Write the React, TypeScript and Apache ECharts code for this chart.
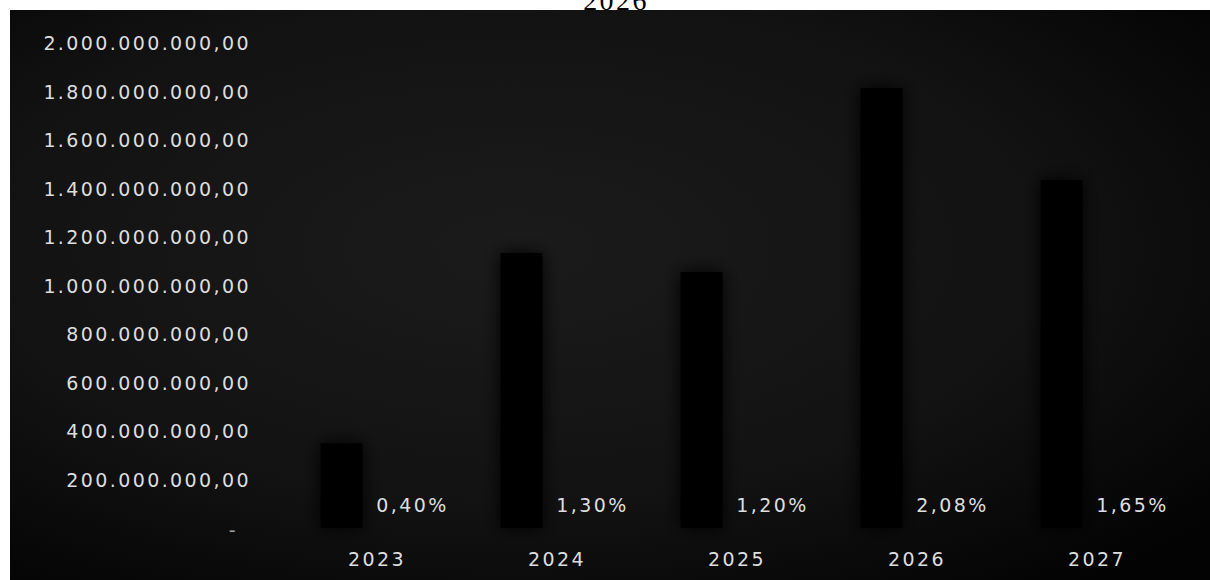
import React, { useEffect, useRef } from "react";
import * as echarts from "echarts";

const years = ["2023", "2024", "2025", "2026", "2027"];
const amounts = [350000000, 1134000000, 1056000000, 1814000000, 1435000000];
const percents = ["0,40%", "1,30%", "1,20%", "2,08%", "1,65%"];
const percentBase = [0, 0, 0, 0, 0];
const yMin = 0;
const yMax = 2000000000;
const yStep = 200000000;
const titleText = "2026";

const fmt = (v: number) =>
  Math.round(v).toString().replace(/\B(?=(\d{3})+(?!\d))/g, ".") + ",00";

const FONT = "DejaVu Sans";
const TXT = "#dedede";

export default function App() {
  const ref = useRef<HTMLDivElement>(null);
  useEffect(() => {
    if (!ref.current) return;
    const chart = echarts.init(ref.current, null, { renderer: "svg" });
    chart.setOption({
      animation: false,
      backgroundColor: "#ffffff",
      graphic: [
        {
          type: "rect",
          z: -10,
          silent: true,
          shape: { x: 10, y: 10, width: 1200, height: 570 },
          style: {
            fill: new echarts.graphic.RadialGradient(0.42, 0.42, 0.75, [
              { offset: 0, color: "#1b1b1b" },
              { offset: 0.6, color: "#121212" },
              { offset: 1, color: "#030303" },
            ]),
          },
        },
        {
          type: "text",
          x: 616,
          y: 0,
          style: {
            text: titleText,
            font: "28px 'Liberation Serif', serif",
            fill: "#000000",
            align: "center",
            verticalAlign: "middle",
          },
        },
      ],
      grid: { left: 287, right: 23, top: 43, bottom: 52 },
      xAxis: {
        type: "category",
        data: years,
        axisLine: { show: false },
        axisTick: { show: false },
        axisLabel: {
          color: TXT,
          fontFamily: FONT,
          fontSize: 19,
          margin: 21,
        },
      },
      yAxis: {
        type: "value",
        min: yMin,
        max: yMax,
        interval: yStep,
        splitLine: { show: false },
        axisLine: { show: false },
        axisTick: { show: false },
        axisLabel: {
          color: TXT,
          fontFamily: FONT,
          fontSize: 19,
          margin: 36,
          formatter: (v: number) => (v === 0 ? "{d|-}" : fmt(v)),
          rich: {
            d: {
              color: "#a0a0a0",
              fontFamily: FONT,
              fontSize: 19,
              padding: [4, 13, 0, 0],
            },
          },
        },
      },
      series: [
        {
          type: "bar",
          data: amounts,
          barWidth: 42,
          barGap: "69%",
          itemStyle: {
            color: "#020202",
            shadowBlur: 18,
            shadowColor: "rgba(0,0,0,1)",
          },
        },
        {
          type: "bar",
          data: percentBase,
          barWidth: 42,
          itemStyle: { color: "rgba(0,0,0,0)" },
          label: {
            show: true,
            position: "top",
            distance: 14,
            color: TXT,
            fontFamily: FONT,
            fontSize: 19,
            formatter: (p: any) => percents[p.dataIndex],
          },
        },
      ],
    });
    return () => chart.dispose();
  }, []);
  return (
    <>
      <style>{`.chartwrap text { letter-spacing: 2.4px; }`}</style>
      <div
        ref={ref}
        className="chartwrap"
        style={{ position: "fixed", left: 0, top: 0, width: 1210, height: 580 }}
      />
    </>
  );
}
